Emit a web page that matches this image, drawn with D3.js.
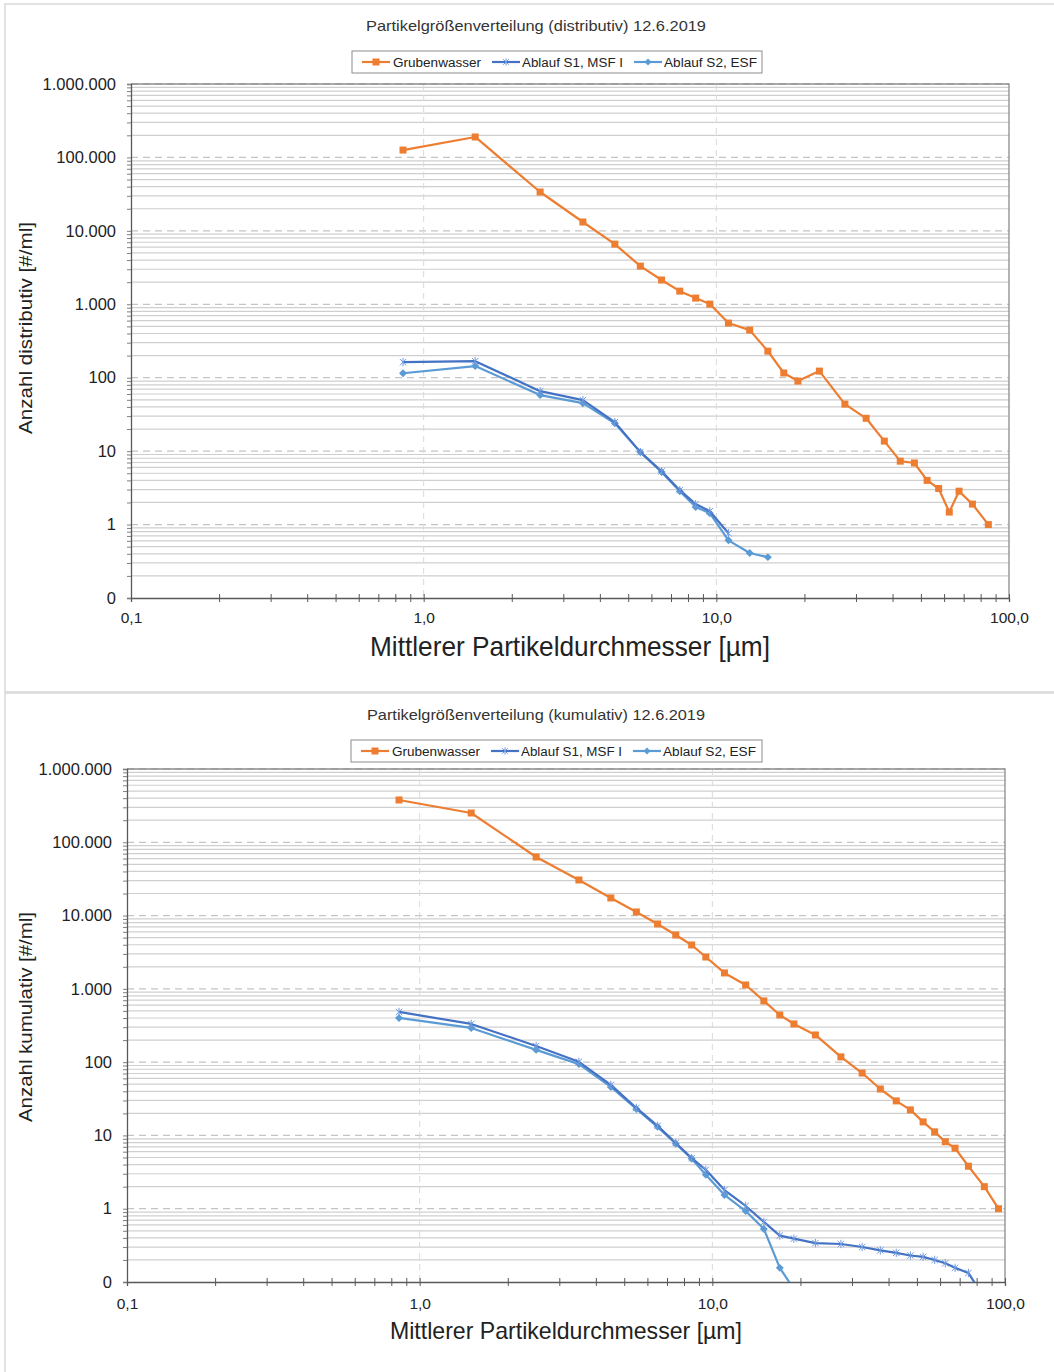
<!DOCTYPE html>
<html><head><meta charset="utf-8">
<script src="https://cdn.jsdelivr.net/npm/d3@7"></script>
<style>
html,body{margin:0;padding:0;background:#fff;}
svg{display:block;}
</style></head>
<body>
<svg id="c" width="1054" height="1372"></svg>
<script>
// ---------- data ----------
const sizesDist = [0.85,1.5,2.5,3.5,4.5,5.5,6.5,7.5,8.5,9.5,11,13,15,17,19,22.5,27.5,32.5,37.5,42.5,47.5,52.5,57.5,62.5,67.5,75,85];
const sizesCum  = [0.85,1.5,2.5,3.5,4.5,5.5,6.5,7.5,8.5,9.5,11,13,15,17,19,22.5,27.5,32.5,37.5,42.5,47.5,52.5,57.5,62.5,67.5,75,85,95];

const distGruben = [126000,190000,33800,13200,6600,3310,2140,1510,1215,1006,555,445,230,116,90,123,43.7,28,13.7,7.3,6.9,4.0,3.1,1.48,2.85,1.9,1.0];
const distS1 = [163,168,65.6,49.5,24.8,9.7,5.3,2.94,1.9,1.52,0.76];
const distS2 = [115,144,58,45,24,9.7,5.2,2.85,1.73,1.43,0.61,0.41,0.36];

const cumGruben = [378000,251000,63000,30600,17400,11200,7680,5430,3970,2720,1650,1130,684,440,332,235,118,71,43,29.6,22.3,15.3,11.2,8.2,6.7,3.8,2.0,1.0];
const cumS1 = [484,332,166,101,48.9,23.7,13.5,7.9,4.9,3.4,1.8,1.09,0.66,0.43,0.39,0.34,0.33,0.30,0.27,0.25,0.23,0.22,0.20,0.18,0.156,0.133,0.06];
const cumS2 = [401,293,147,94,45.9,23,13.1,7.7,4.8,2.9,1.54,0.93,0.53,0.156,0.08];

const seriesNames = ["Grubenwasser","Ablauf S1, MSF I","Ablauf S2, ESF"];
const seriesColors = ["#ED7D31","#4472C4","#5B9BD5"];
const yTickLabels = ["0","1","10","100","1.000","10.000","100.000","1.000.000"];
const xTickLabels = ["0,1","1,0","10,0","100,0"];

// ---------- drawing ----------
const svg = d3.select("#c");
const fmtY = v => yTickLabels[Math.round(Math.log10(v)) + 1];
const fmtX = v => xTickLabels[Math.round(Math.log10(v)) + 1];

function minorVals(lo, hi){
  const out=[];
  for(let e=lo;e<hi;e++){ for(let m=1;m<=9;m++){ out.push(m*Math.pow(10,e)); } }
  out.push(Math.pow(10,hi));
  return out;
}

function starPath(s){
  return `M${-s},${-s}L${s},${s}M${-s},${s}L${s},${-s}M0,${-s*1.3}L0,${s*1.3}`;
}

function drawChart(cfg){
  const g = svg.append("g");
  g.append("rect").attr("x",cfg.panel[0]).attr("y",cfg.panel[1]).attr("width",cfg.panel[2]).attr("height",cfg.panel[3])
    .attr("fill","#fff").attr("stroke","#d9d9d9").attr("stroke-width",1.5);

  const x = d3.scaleLog().domain([0.1,100]).range([cfg.left,cfg.right]);
  const y = d3.scaleLog().domain([0.1,1e6]).range([cfg.bottom,cfg.top]);

  const clipId = "clip"+cfg.id;
  g.append("clipPath").attr("id",clipId).append("rect")
    .attr("x",cfg.left).attr("y",cfg.top-6).attr("width",cfg.right-cfg.left+6).attr("height",cfg.bottom-cfg.top+6);

  const yAll = minorVals(-1,6);
  const yMajor = yAll.filter(v => Math.abs(Math.log10(v)-Math.round(Math.log10(v)))<1e-9);
  const yMinor = yAll.filter(v => !yMajor.includes(v));
  g.append("g").selectAll("line").data(yMinor).join("line")
    .attr("x1",cfg.left).attr("x2",cfg.right).attr("y1",d=>y(d)).attr("y2",d=>y(d))
    .attr("stroke","#cfcfcf").attr("stroke-width",1.2);
  g.append("g").selectAll("line").data(yMajor.slice(1)).join("line")
    .attr("x1",cfg.left).attr("x2",cfg.right).attr("y1",d=>y(d)).attr("y2",d=>y(d))
    .attr("stroke","#c4c4c4").attr("stroke-width",1.3).attr("stroke-dasharray","7,5");
  g.append("g").selectAll("line").data([1,10]).join("line")
    .attr("x1",d=>x(d)).attr("x2",d=>x(d)).attr("y1",cfg.top).attr("y2",cfg.bottom)
    .attr("stroke","#d9d9d9").attr("stroke-width",1).attr("stroke-dasharray","6,5");

  g.append("path").attr("d",`M${cfg.left},${cfg.top}H${cfg.right}V${cfg.bottom}`)
    .attr("fill","none").attr("stroke","#8c8c8c").attr("stroke-width",1.3);

  const yAxis = d3.axisLeft(y).tickValues(yAll).tickSize(4).tickFormat(d => yMajor.includes(d) ? fmtY(d) : "");
  const ya = g.append("g").attr("transform",`translate(${cfg.left},0)`).call(yAxis);
  ya.select(".domain").attr("stroke","#595959").attr("stroke-width",1.3);
  ya.selectAll(".tick line").attr("stroke","#7f7f7f");
  ya.selectAll(".tick text").attr("font-family","Liberation Sans, Arial, sans-serif").attr("font-size",cfg.yTickFont)
    .attr("fill","#222").attr("x",-cfg.yTickPad);

  const xAll = minorVals(-1,2);
  const xMajor = [0.1,1,10,100];
  const xAxis = d3.axisBottom(x).tickValues(xAll).tickSize(4).tickFormat(d => xMajor.some(m=>Math.abs(m-d)<1e-9) ? fmtX(d) : "");
  const xa = g.append("g").attr("transform",`translate(0,${cfg.bottom})`).call(xAxis);
  xa.select(".domain").attr("stroke","#595959").attr("stroke-width",1.3);
  xa.selectAll(".tick line").attr("stroke","#595959").attr("y1",-4).attr("y2",4);
  xa.selectAll(".tick text").attr("font-family","Liberation Sans, Arial, sans-serif").attr("font-size",cfg.xTickFont)
    .attr("fill","#222").attr("y",cfg.xTickDy);

  const line = d3.line().x(d=>x(d[0])).y(d=>y(d[1]));
  const plot = g.append("g").attr("clip-path",`url(#${clipId})`);
  const series = [cfg.s0, cfg.s1, cfg.s2];
  const xs = [cfg.x0, cfg.x1, cfg.x2];
  [2,1,0].forEach(i=>{
    const pts = series[i].map((v,k)=>[xs[i][k],v]);
    plot.append("path").datum(pts).attr("d",line).attr("fill","none")
      .attr("stroke",seriesColors[i]).attr("stroke-width",2.2).attr("stroke-linejoin","round");
    const mk = plot.append("g").selectAll("g").data(pts).join("g")
      .attr("transform",d=>`translate(${x(d[0])},${y(d[1])})`);
    if(i===0){
      mk.append("rect").attr("x",-3.5).attr("y",-3.5).attr("width",7).attr("height",7).attr("fill",seriesColors[0]);
    } else if(i===1){
      mk.append("path").attr("d",starPath(3.2)).attr("stroke","#6f9ae0").attr("stroke-width",1).attr("fill","none");
    } else {
      mk.append("path").attr("d",d3.symbol(d3.symbolDiamond2,40)()).attr("fill",seriesColors[2]);
    }
  });

  g.append("text").attr("x",cfg.titleX).attr("y",cfg.titleY).attr("text-anchor","middle")
    .attr("font-family","Liberation Sans Narrow, Arial Narrow, Liberation Sans, sans-serif").attr("font-size",15).attr("fill","#333")
    .attr("textLength",cfg.titleLen).attr("lengthAdjust","spacingAndGlyphs").text(cfg.title);

  const L = cfg.legend;
  g.append("rect").attr("x",L[0]).attr("y",L[1]).attr("width",L[2]).attr("height",L[3])
    .attr("fill","#fff").attr("stroke","#8c8c8c").attr("stroke-width",1);
  const legItems = [
    {sx:L[0]+10, tx:L[0]+41, tl:88},
    {sx:L[0]+140, tx:L[0]+170, tl:101},
    {sx:L[0]+282, tx:L[0]+312, tl:93}
  ];
  legItems.forEach((it,i)=>{
    const cy = L[1]+L[3]/2;
    g.append("line").attr("x1",it.sx).attr("x2",it.sx+28).attr("y1",cy).attr("y2",cy)
      .attr("stroke",seriesColors[i]).attr("stroke-width",2.2);
    const mg = g.append("g").attr("transform",`translate(${it.sx+14},${cy})`);
    if(i===0) mg.append("rect").attr("x",-3.5).attr("y",-3.5).attr("width",7).attr("height",7).attr("fill",seriesColors[0]);
    else if(i===1) mg.append("path").attr("d",starPath(2.8)).attr("stroke","#6f9ae0").attr("stroke-width",1).attr("fill","none");
    else mg.append("path").attr("d",d3.symbol(d3.symbolDiamond2,30)()).attr("fill",seriesColors[2]);
    g.append("text").attr("x",it.tx).attr("y",cy+4.5).attr("font-family","Liberation Sans, Arial, sans-serif")
      .attr("font-size",12.5).attr("fill","#222").attr("textLength",it.tl).attr("lengthAdjust","spacingAndGlyphs")
      .text(seriesNames[i]);
  });

  g.append("text").attr("transform",`translate(${cfg.yTitleX},${cfg.yTitleY}) rotate(-90)`).attr("text-anchor","middle")
    .attr("font-family","Liberation Sans, Arial, sans-serif").attr("font-size",19).attr("fill","#222")
    .attr("textLength",cfg.yTitleLen).attr("lengthAdjust","spacingAndGlyphs").text(cfg.yTitle);
  g.append("text").attr("x",cfg.xTitleX).attr("y",cfg.xTitleY).attr("text-anchor","middle")
    .attr("font-family","Liberation Sans Narrow, Arial Narrow, Liberation Sans, sans-serif").attr("font-size",cfg.xTitleFont).attr("fill","#222")
    .attr("textLength",cfg.xTitleLen).attr("lengthAdjust","spacingAndGlyphs").text(cfg.xTitle);
}

drawChart({
  id:1, panel:[5,4,1060,688],
  left:131, right:1009, top:84, bottom:598,
  title:"Partikelgrößenverteilung  (distributiv) 12.6.2019", titleX:536, titleY:31, titleLen:340,
  legend:[352,51,410,22],
  s0:distGruben, s1:distS1, s2:distS2, x0:sizesDist, x1:sizesDist.slice(0,distS1.length), x2:sizesDist.slice(0,distS2.length),
  yTitle:"Anzahl distributiv [#/ml]", yTitleX:32, yTitleY:328, yTitleLen:212,
  xTitle:"Mittlerer Partikeldurchmesser [µm]", xTitleX:570, xTitleY:656, xTitleLen:400, xTitleFont:28,
  yTickFont:16.5, yTickPad:15, xTickFont:15.5, xTickDy:14
});

drawChart({
  id:2, panel:[5,693,1060,690],
  left:127, right:1005, top:769, bottom:1282,
  title:"Partikelgrößenverteilung  (kumulativ) 12.6.2019", titleX:536, titleY:720, titleLen:338,
  legend:[351,740,411,22],
  s0:cumGruben, s1:cumS1, s2:cumS2, x0:sizesCum, x1:sizesCum.slice(0,cumS1.length), x2:sizesCum.slice(0,cumS2.length),
  yTitle:"Anzahl kumulativ [#/ml]", yTitleX:32, yTitleY:1017, yTitleLen:210,
  xTitle:"Mittlerer  Partikeldurchmesser [µm]", xTitleX:566, xTitleY:1339, xTitleLen:352, xTitleFont:24,
  yTickFont:16.5, yTickPad:15, xTickFont:15.5, xTickDy:16
});
</script>
</body></html>
